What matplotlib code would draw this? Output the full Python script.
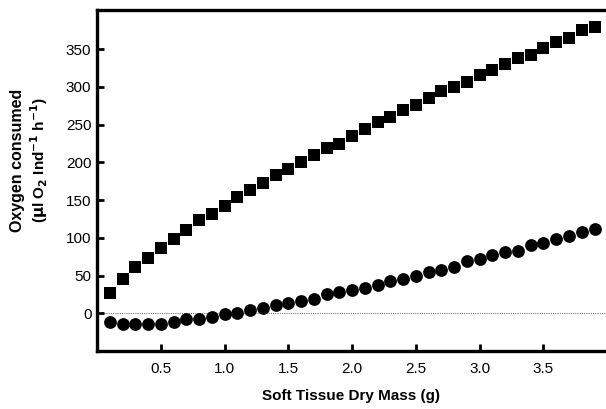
import matplotlib.pyplot as plt

plt.rcParams["font.family"] = ["Liberation Sans", "DejaVu Sans"]

# Soft tissue dry mass (g)
dry_mass = [0.1, 0.2, 0.3, 0.4, 0.5, 0.6, 0.7, 0.8, 0.9, 1.0,
            1.1, 1.2, 1.3, 1.4, 1.5, 1.6, 1.7, 1.8, 1.9, 2.0,
            2.1, 2.2, 2.3, 2.4, 2.5, 2.6, 2.7, 2.8, 2.9, 3.0,
            3.1, 3.2, 3.3, 3.4, 3.5, 3.6, 3.7, 3.8, 3.9]

# Oxygen consumption, square series
oxygen_squares = [27, 45, 61, 73, 86, 98, 111, 123, 132, 142,
                  154, 163, 173, 183, 191, 201, 210, 219, 225, 235,
                  244, 253, 260, 269, 276, 286, 294, 300, 306, 316,
                  322, 331, 338, 343, 352, 359, 365, 375, 380]

# Oxygen consumption, circle series
oxygen_circles = [-11, -14, -14, -14, -14, -11, -8, -8, -5, -1,
                  1, 4, 7, 11, 13, 16, 19, 25, 28, 31,
                  34, 37, 43, 46, 49, 55, 58, 61, 69, 72,
                  77, 81, 83, 91, 93, 99, 103, 108, 112]

y_ticks = [0, 50, 100, 150, 200, 250, 300, 350]
x_ticks = [0.5, 1.0, 1.5, 2.0, 2.5, 3.0, 3.5]

fig = plt.figure(figsize=(6.06, 4.09), dpi=100)
ax = fig.add_axes([97 / 606, 1 - 351 / 409, 509 / 606, 341 / 409])

ax.axhline(0, color="#777777", linewidth=0.8, linestyle=(0, (1, 1)), zorder=1)

ax.plot(dry_mass, oxygen_squares, linestyle="none", marker="s",
        markersize=8.6, markeredgewidth=0, color="black", zorder=3)
ax.plot(dry_mass, oxygen_circles, linestyle="none", marker="o",
        markersize=9.2, markeredgewidth=0, color="black", zorder=3)

ax.set_xlim(0, 3.99)
ax.set_ylim(-50, 402)
ax.set_xticks(x_ticks)
ax.set_xticklabels([f"{t:.1f}" for t in x_ticks])
ax.set_yticks(y_ticks)

for side in ["left", "bottom", "top"]:
    ax.spines[side].set_linewidth(2.4)
ax.spines["right"].set_visible(False)

ax.tick_params(axis="both", direction="in", length=5, width=2,
               labelsize=11, color="black")
ax.tick_params(axis="x", pad=8)
ax.tick_params(axis="y", pad=4)

ax.set_xlabel("Soft Tissue Dry Mass (g)", fontsize=11, fontweight="bold",
              labelpad=9)

fig.text(18 / 606, 1 - 160 / 409, "Oxygen consumed", rotation=90,
         ha="center", va="center", fontsize=11.5, fontweight="bold")
fig.text(39 / 606, 1 - 160 / 409,
         r"($\mathbf{\mu}$l O$_\mathbf{2}$ Ind$^\mathbf{-1}$ h$^\mathbf{-1}$)",
         rotation=90, ha="center", va="center", fontsize=11, fontweight="bold")

fig.savefig("out.png", dpi=100)
